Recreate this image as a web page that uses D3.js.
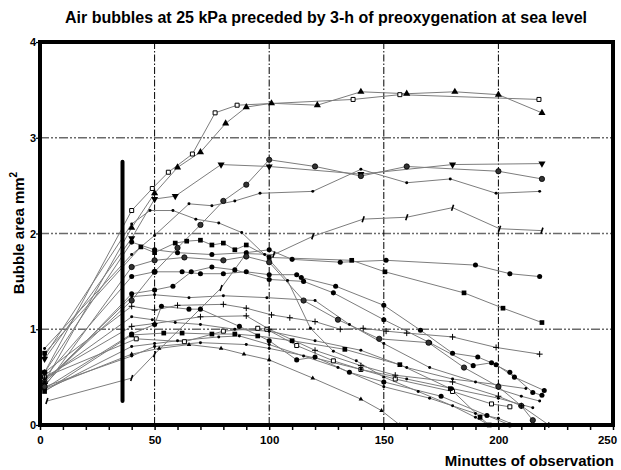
<!DOCTYPE html>
<html>
<head>
<meta charset="utf-8">
<script src="https://cdn.jsdelivr.net/npm/d3@7/dist/d3.min.js"></script>
<style>
  html, body { margin: 0; padding: 0; background: #fff; }
  svg { display: block; font-family: "Liberation Sans", Arial, sans-serif; }
</style>
</head>
<body>
<svg id="chart" width="621" height="470"></svg>
<script>
// Bubble area (mm²) per subject over minutes of observation: [minute, area]
const sA = [[2,0.55],[40,2.24],[49,2.47],[56,2.64],[66.5,2.83],[76.4,3.26],[86,3.34],[136.6,3.40],[157,3.45],[217.7,3.40]];
const sB = [[2,0.45],[40,2.06],[50,2.42],[60,2.69],[70,2.85],[81,3.15],[90,3.32],[101,3.36],[121,3.34],[140,3.48],[160,3.46],[181,3.48],[200,3.45],[219,3.26]];
const sC = [[2,0.69],[40,1.95],[50,2.36],[59,2.39],[79,2.72],[100,2.70],[140,2.62],[180,2.72],[219,2.73]];
const sD = [[2,0.45],[40,1.30],[50,1.60],[60,1.85],[70,2.09],[80,2.34],[90,2.51],[100,2.77],[120,2.70],[140,2.60],[160,2.70],[200,2.65],[219,2.57]];
const sE = [[2,0.80],[40,1.78],[50,1.98],[65,2.31],[75,2.29],[85,2.34],[96,2.42],[119,2.44],[140,2.67],[160,2.53],[179,2.57],[199,2.42],[218,2.44]];
const sF = [[2,0.72],[40,2.10],[48,2.24],[58,2.24],[68,2.15],[78,2.11],[88,2.01],[98,1.78],[108,1.51],[118,1.01],[128,0.77],[138,0.67],[150,0.50],[165,0.35],[180,0.20],[190,0.08],[196,0.00]];
const sG = [[3,0.25],[40,0.49],[50,0.74],[79,1.43],[90,1.79],[102,1.78],[119,1.97],[141,2.15],[160,2.17],[180,2.27],[200.5,2.05],[219,2.03]];
const sH = [[2,0.55],[40,1.91],[50,1.83],[60,1.80],[75,1.78],[90,1.80],[100,1.83],[110,1.73],[131,1.70],[151,1.72],[190,1.67],[205,1.58],[218,1.55]];
const sI = [[2,0.75],[44,1.86],[50,1.80],[59,1.90],[64,1.92],[70,1.93],[75,1.88],[80,1.90],[85,1.83],[90,1.88],[100,1.75],[136,1.72],[150.5,1.60],[185,1.38],[202,1.22],[219,1.07]];
const sJ = [[2,0.55],[40,1.24],[50,1.20],[60,1.25],[80,1.26],[90,1.22],[101,1.15],[109,1.12],[120,1.08],[131,1.00],[141,1.01],[151,0.98],[160,0.96],[180,0.92],[199,0.81],[218,0.74]];
const sK = [[2,0.50],[40,1.55],[50,1.60],[62,1.60],[70,1.58],[80,1.58],[90,1.60],[100,1.57],[112,1.57],[114,1.54],[129,1.45],[150,1.25],[166,0.99],[180,0.75],[191,0.71],[199,0.63],[207,0.50],[220,0.36]];
const sL = [[2,0.42],[40,1.37],[50,1.41],[58,1.45],[66,1.60],[75,1.65],[85,1.62],[100,1.52],[115,1.50],[128,1.38],[150,1.10],[170,0.86],[189,0.62],[197,0.65],[205,0.55],[215,0.34],[219,0.31]];
const sM = [[2,0.45],[40,1.34],[50,1.36],[65,1.33],[80,1.35],[99,1.33],[120,1.30],[135,1.05],[150,0.85],[170,0.60],[190,0.45],[210,0.30],[218,0.25]];
const sN = [[2,0.50],[42,0.90],[63,0.87],[80,0.98],[95,1.01],[99,1.00],[112,0.83],[128,0.67],[140,0.58],[155,0.48],[180,0.35],[197,0.22],[205,0.19]];
const sO = [[2,0.35],[40,0.94],[54,0.96],[62,0.96],[75,0.95],[85,0.95],[95,0.93],[110,0.88],[133,0.79],[157,0.63],[179,0.38],[192,0.08],[196,0.00]];
const sP = [[2,0.40],[40,0.72],[50,0.82],[70,0.86],[90,0.84],[100,0.80],[120,0.70],[140,0.58],[160,0.48],[180,0.38],[200,0.28],[215,0.18]];
const sQ = [[2,0.38],[40,0.95],[50,1.05],[53,1.24],[65,1.21],[70,1.21],[87,1.03],[100,0.88],[112,0.68],[120,0.71],[135,0.55],[150,0.45],[175,0.30],[195,0.10],[205,0.00]];
const sR = [[2,0.48],[40,1.13],[49,1.10],[59,1.07],[70,1.05],[85,1.00],[100,0.98],[120,0.88],[140,0.78],[160,0.60],[180,0.48],[200,0.42],[212,0.38]];
const sS = [[2,0.38],[40,0.74],[52,0.80],[65,0.84],[79,0.80],[89,0.74],[100,0.68],[119,0.49],[140,0.27],[149,0.15],[157,0.00]];
const sT = [[2,0.40],[40,1.65],[50,1.72],[63,1.75],[80,1.72],[90,1.76],[100,1.70],[115,1.30],[130,1.10],[148,0.90],[169.5,0.86],[185,0.60],[200,0.40],[210,0.20],[215,0.05]];
const sU = [[2,0.36],[40,0.82],[50,0.85],[60,0.88],[78,0.92],[87,0.93],[100,0.84],[115,0.72],[130,0.60],[150,0.40],[170,0.28],[190,0.12],[200,0.07],[207,0.00]];
const sV = [[2,0.50],[40,1.03],[50,1.06],[70,1.13],[90,1.14],[100,1.00],[120,0.78],[140,0.62],[155,0.52],[180,0.45],[200,0.30],[210,0.20],[222,0.00]];

// Marker shape per subject
const seriesList = [
  { pts: sA, mark: "squareOpen" }, { pts: sB, mark: "triangle" },
  { pts: sC, mark: "triangleDown" }, { pts: sD, mark: "ring" },
  { pts: sE, mark: "dot" }, { pts: sF, mark: "dot" },
  { pts: sG, mark: "slash" }, { pts: sH, mark: "circle" },
  { pts: sI, mark: "square" }, { pts: sJ, mark: "plus" },
  { pts: sK, mark: "circle" }, { pts: sL, mark: "circle" },
  { pts: sM, mark: "dot" }, { pts: sN, mark: "squareOpen" },
  { pts: sO, mark: "square" }, { pts: sP, mark: "dot" },
  { pts: sQ, mark: "circle" }, { pts: sR, mark: "dot" },
  { pts: sS, mark: "triangleSmall" }, { pts: sT, mark: "ring" },
  { pts: sU, mark: "dot" }, { pts: sV, mark: "plus" }
];

const xTicks = [0, 50, 100, 150, 200, 250];
const yTicks = [0, 1, 2, 3, 4];
const markerBar = { minute: 36, from: 0.25, to: 2.75 };

const svg = d3.select("#chart");
const x = d3.scaleLinear().domain([0, 250]).range([40, 613]);
const y = d3.scaleLinear().domain([0, 4]).range([425, 42]);

// Title
svg.append("text")
  .attr("x", 326).attr("y", 23)
  .attr("text-anchor", "middle")
  .style("font-size", "16px").style("font-weight", "bold")
  .text("Air bubbles at 25 kPa preceded by 3-h of preoxygenation at sea level");

// Grid
svg.append("g").selectAll("line").data([1, 2, 3]).join("line")
  .attr("x1", x(0)).attr("x2", x(250))
  .attr("y1", d => y(d)).attr("y2", d => y(d))
  .attr("stroke", "#6a6a6a").attr("stroke-width", 1.6)
  .attr("stroke-dasharray", "9,2,2,2,2,2");
svg.append("g").selectAll("line").data([50, 100, 150, 200]).join("line")
  .attr("x1", d => x(d)).attr("x2", d => x(d))
  .attr("y1", y(4)).attr("y2", y(0))
  .attr("stroke", "#000").attr("stroke-width", 1)
  .attr("stroke-dasharray", "7,2,1.5,2");

// Axes
const xAxis = svg.append("g").attr("transform", `translate(0,${y(0)})`)
  .call(d3.axisBottom(x).tickValues(d3.range(0, 251, 10)).tickSize(5)
    .tickFormat(d => xTicks.includes(d) ? d : ""));
xAxis.select(".domain").remove();
xAxis.selectAll(".tick line").attr("stroke", "#000").attr("stroke-width", 1.5);
xAxis.selectAll("text").attr("dy", "0.95em")
  .attr("dx", d => d === 250 ? -6 : 0)
  .style("font-size", "11.5px").style("font-weight", "bold").style("font-family", "Liberation Sans, Arial, sans-serif");

const yAxis = svg.append("g").attr("transform", `translate(${x(0)},0)`)
  .call(d3.axisLeft(y).tickValues(yTicks).tickSize(4).tickFormat(d3.format("d")));
yAxis.select(".domain").remove();
yAxis.selectAll(".tick line").attr("stroke", "#000").attr("stroke-width", 1.2);
yAxis.selectAll("text").attr("x", -4)
  .style("font-size", "11px").style("font-weight", "bold").style("font-family", "Liberation Sans, Arial, sans-serif");

// Series lines
const line = d3.line().x(d => x(d[0])).y(d => y(d[1]));
const lines = svg.append("g");
seriesList.forEach(s => {
  lines.append("path").attr("d", line(s.pts))
    .attr("fill", "none").attr("stroke", "#7d7d7d").attr("stroke-width", 1);
});

// Markers
const marks = svg.append("g");
const symSquare = d3.symbol().type(d3.symbolSquare);
const symTri = d3.symbol().type(d3.symbolTriangle);
const symCircle = d3.symbol().type(d3.symbolCircle);
seriesList.forEach(s => {
  s.pts.forEach(p => {
    const g = marks.append("g").attr("transform", `translate(${x(p[0])},${y(p[1])})`);
    switch (s.mark) {
      case "squareOpen":
        g.append("path").attr("d", symSquare.size(16)()).attr("fill", "#fff").attr("stroke", "#000").attr("stroke-width", 1); break;
      case "square":
        g.append("path").attr("d", symSquare.size(22)()).attr("fill", "#000"); break;
      case "triangle":
        g.append("path").attr("d", symTri.size(22)()).attr("fill", "#000"); break;
      case "triangleSmall":
        g.append("path").attr("d", symTri.size(9)()).attr("fill", "#000"); break;
      case "triangleDown":
        g.append("path").attr("d", symTri.size(22)()).attr("transform", "rotate(180)").attr("fill", "#000"); break;
      case "circle":
        g.append("path").attr("d", symCircle.size(20)()).attr("fill", "#000"); break;
      case "ring":
        g.append("path").attr("d", symCircle.size(22)()).attr("fill", "#333").attr("stroke", "#000").attr("stroke-width", 0.8); break;
      case "dot":
        g.append("path").attr("d", symCircle.size(7)()).attr("fill", "#000"); break;
      case "plus":
        g.append("path").attr("d", "M-3,0H3M0,-3V3").attr("stroke", "#000").attr("stroke-width", 1); break;
      case "slash":
        g.append("path").attr("d", "M-1,3L1,-3").attr("stroke", "#000").attr("stroke-width", 1.6); break;
    }
  });
});

// Thick vertical reference bar
svg.append("line")
  .attr("x1", x(markerBar.minute)).attr("x2", x(markerBar.minute))
  .attr("y1", y(markerBar.to)).attr("y2", y(markerBar.from))
  .attr("stroke", "#000").attr("stroke-width", 4).attr("stroke-linecap", "round");

// Plot frame
svg.append("rect")
  .attr("x", x(0)).attr("y", y(4))
  .attr("width", x(250) - x(0)).attr("height", y(0) - y(4))
  .attr("fill", "none").attr("stroke", "#000").attr("stroke-width", 4);

// Axis titles
svg.append("text")
  .attr("x", 614).attr("y", 466).attr("text-anchor", "end")
  .style("font-size", "15px").style("font-weight", "bold")
  .text("Minuttes of observation");

const yl = svg.append("text")
  .attr("transform", "translate(24,233) rotate(-90)")
  .attr("text-anchor", "middle")
  .style("font-size", "15px").style("font-weight", "bold");
yl.append("tspan").text("Bubble area mm");
yl.append("tspan").attr("dy", -7).style("font-size", "10px").text("2");
</script>
</body>
</html>
